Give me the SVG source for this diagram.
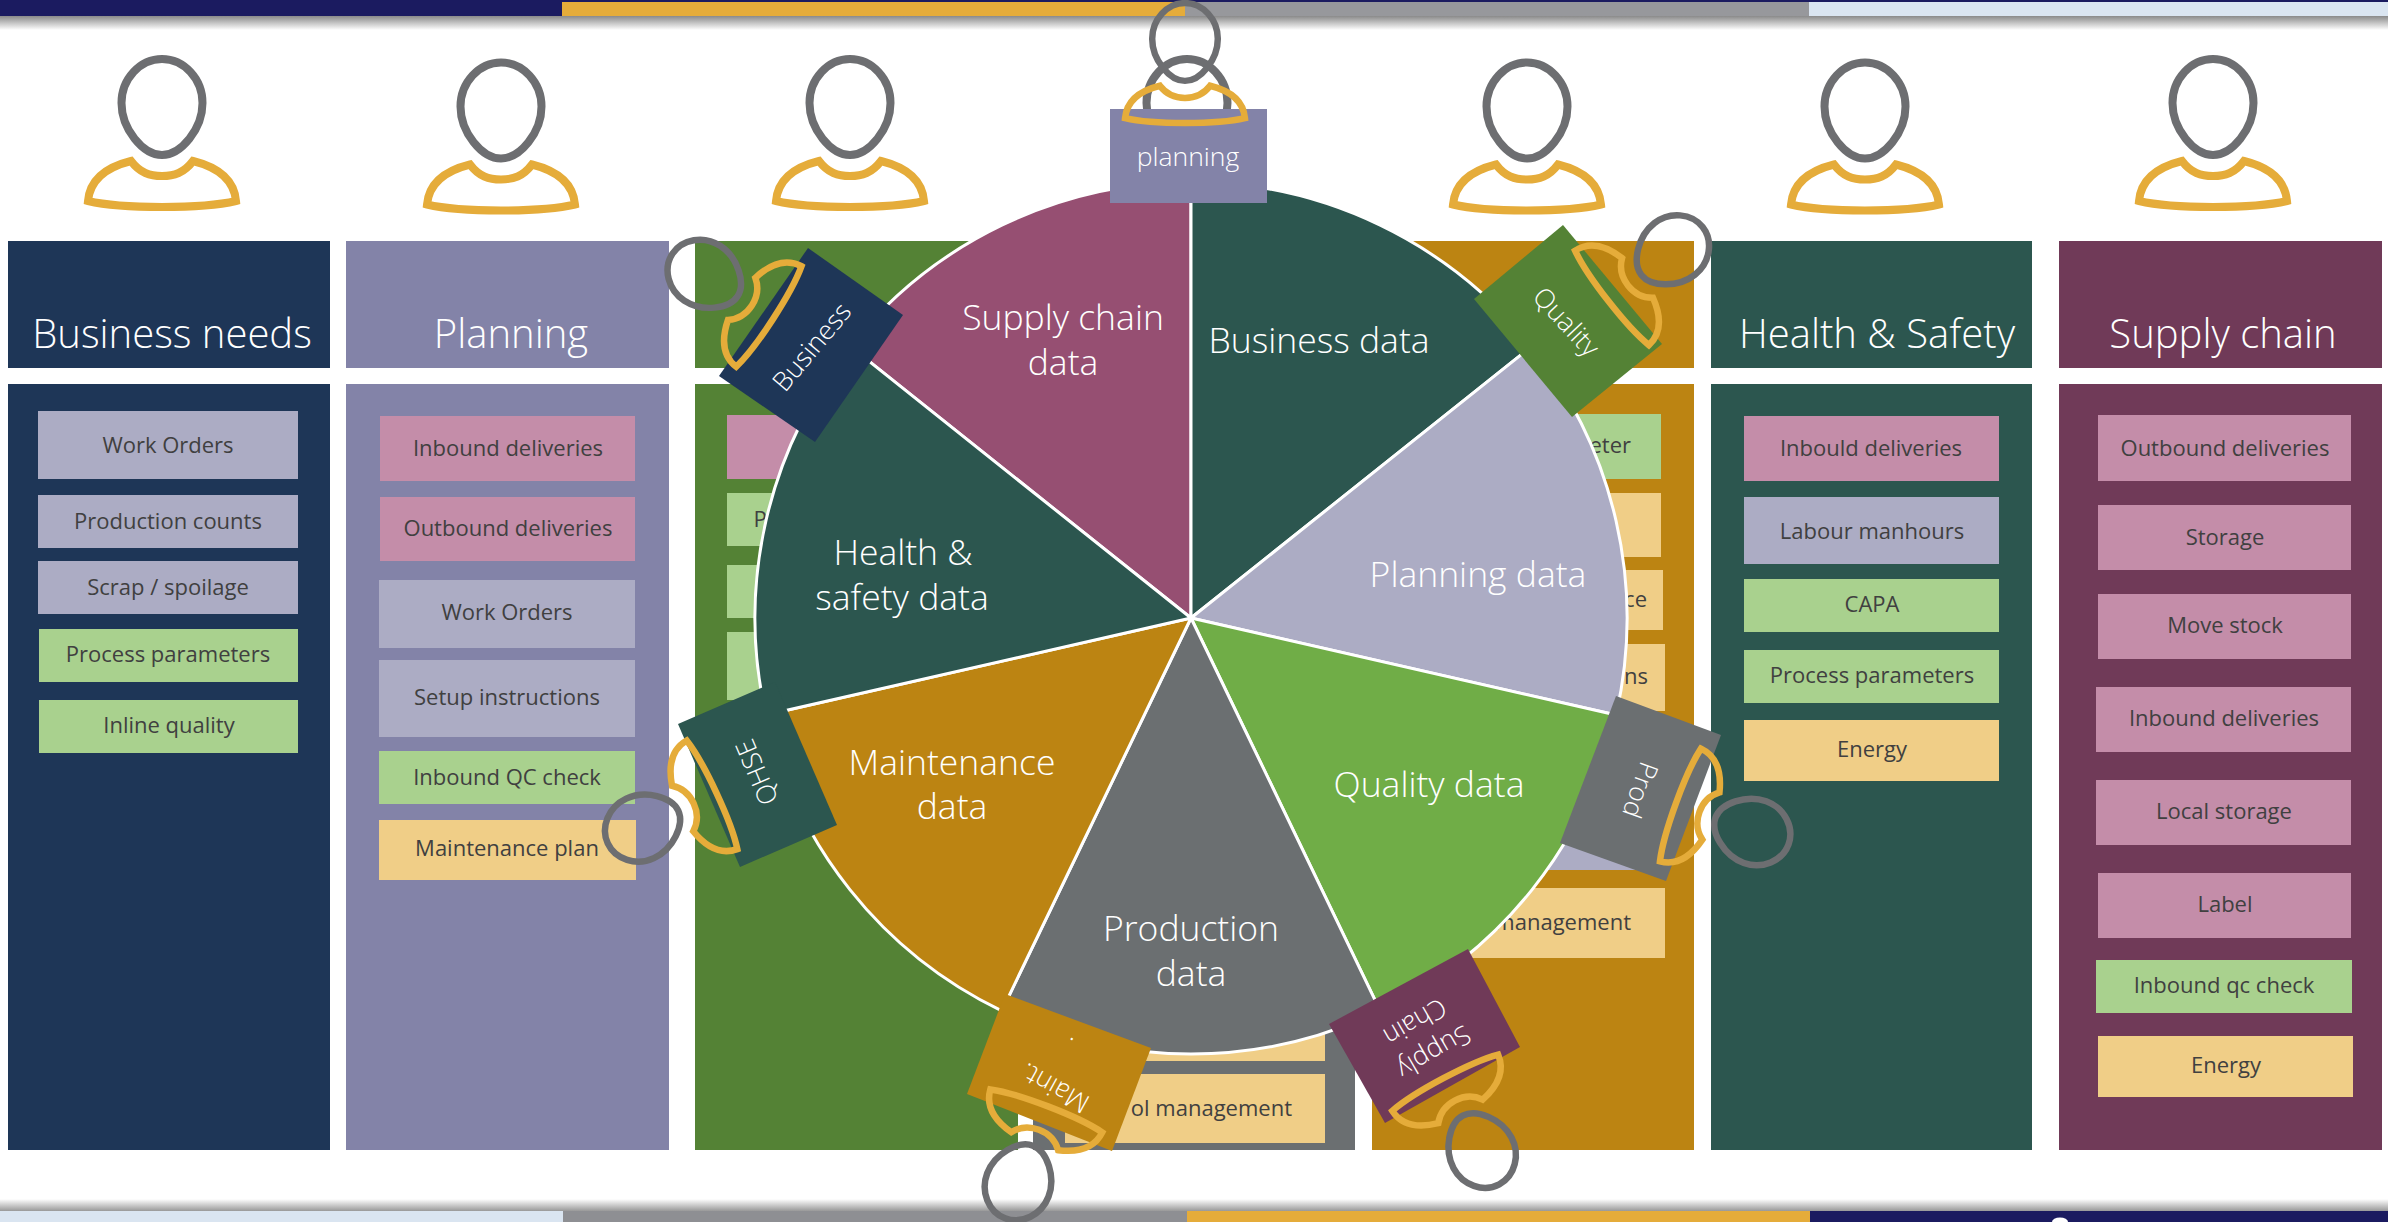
<svg xmlns="http://www.w3.org/2000/svg" xmlns:xlink="http://www.w3.org/1999/xlink" width="2388" height="1222" viewBox="0 0 2388 1222">
<style>
text{font-family:"Open Sans","Noto Sans","Liberation Sans",sans-serif}
.i{font-size:22px;fill:#404040;text-anchor:middle}
.f{font-size:22px;fill:#404040;text-anchor:end}
.t{font-size:40px;fill:#fff;text-anchor:middle;font-weight:350}
.w{font-size:35.500px;fill:#fff;text-anchor:middle;font-weight:350}
.c{font-size:26.500px;fill:#fff;text-anchor:middle;font-weight:350}
.lav{fill:#ACACC4}.pink{fill:#C48DA9}.grn{fill:#A9D18E}.yel{fill:#F0CE87}
.wedge{stroke:#fff;stroke-width:3;stroke-linejoin:round}
.head{fill:none;stroke:#6D6E71;stroke-width:8}
.body{fill:none;stroke:#E5AC3A;stroke-width:8}
</style>
<defs>
<linearGradient id="sd" x1="0" y1="0" x2="0" y2="1"><stop offset="0" stop-color="#8a8a8a"/><stop offset="1" stop-color="#fff"/></linearGradient>
<linearGradient id="su" x1="0" y1="0" x2="0" y2="1"><stop offset="0" stop-color="#fff"/><stop offset="1" stop-color="#999"/></linearGradient>
<path id="h" class="head" d="M0,-48C22,-48 40.500,-28 40.500,-4C40.500,22 19,48 0,48C-19,48 -40.500,22 -40.500,-4C-40.500,-28 -22,-48 0,-48Z"/>
<path id="b" class="body" d="M-31,54C-22,66 -12,69 0,69C12,69 22,66 31,54C55,60 72,72 74,94C40,102 -40,102 -74,94C-72,72 -55,60 -31,54Z"/>
<g id="p"><use href="#h"/><use href="#b"/></g>
</defs>
<g id="bars">
<rect x="0" y="16" width="2388" height="14" fill="url(#sd)"/>
<rect x="0" y="0" width="2388" height="16" fill="#1B1B60"/>
<rect x="562" y="2" width="623" height="14" fill="#E5AC3A"/>
<rect x="1185" y="2" width="624" height="14" fill="#97989C"/>
<rect x="1809" y="2" width="579" height="14" fill="#DAE5F1"/>
<rect x="0" y="1199" width="2388" height="12" fill="url(#su)"/>
<rect x="0" y="1211" width="563" height="11" fill="#DAE5F1"/>
<rect x="563" y="1211" width="624" height="11" fill="#8E8F93"/>
<rect x="1187" y="1211" width="623" height="11" fill="#E5AC3A"/>
<rect x="1810" y="1211" width="578" height="11" fill="#1B1B60"/>
<ellipse cx="2060" cy="1222" rx="8" ry="4.500" fill="#fff"/>
</g>
<g id="col-business">
<rect x="8" y="241" width="322" height="127" fill="#1E3657"/>
<rect x="8" y="384" width="322" height="766" fill="#1E3657"/>
<text class="t" x="172" y="348">Business needs</text>
<rect class="lav" x="38" y="411" width="260" height="68"/><text class="i" x="168" y="453">Work Orders</text>
<rect class="lav" x="38" y="495" width="260" height="53"/><text class="i" x="168" y="529">Production counts</text>
<rect class="lav" x="38" y="561" width="260" height="53"/><text class="i" x="168" y="595">Scrap / spoilage</text>
<rect class="grn" x="39" y="629" width="259" height="53"/><text class="i" x="168" y="662">Process parameters</text>
<rect class="grn" x="39" y="700" width="259" height="53"/><text class="i" x="169" y="733">Inline quality</text>
</g>
<g id="col-planning">
<rect x="346" y="241" width="323" height="127" fill="#8383A8"/>
<rect x="346" y="384" width="323" height="766" fill="#8383A8"/>
<text class="t" x="511" y="348">Planning</text>
<rect class="pink" x="380" y="416" width="255" height="65"/><text class="i" x="508" y="456">Inbound deliveries</text>
<rect class="pink" x="380" y="497" width="255" height="64"/><text class="i" x="508" y="536">Outbound deliveries</text>
<rect class="lav" x="379" y="580" width="256" height="68"/><text class="i" x="507" y="620">Work Orders</text>
<rect class="lav" x="379" y="660" width="256" height="77"/><text class="i" x="507" y="705">Setup instructions</text>
<rect class="grn" x="379" y="751" width="256" height="53"/><text class="i" x="507" y="785">Inbound QC check</text>
<rect class="yel" x="379" y="820" width="257" height="60"/><text class="i" x="507" y="856">Maintenance plan</text>
</g>
<g id="col-quality">
<rect x="695" y="241" width="323" height="127" fill="#548235"/>
<rect x="695" y="384" width="323" height="766" fill="#548235"/>
<rect class="pink" x="727" y="415" width="200" height="64"/>
<rect class="grn" x="727" y="493" width="200" height="53"/><text class="i" x="760" y="527">P</text>
<rect class="grn" x="727" y="565" width="200" height="53"/>
<rect class="grn" x="727" y="632" width="200" height="68"/>
</g>
<g id="col-production">
<rect x="1033" y="384" width="322" height="766" fill="#6B6F71"/>
<rect class="yel" x="1065" y="1000" width="260" height="61"/>
<rect class="yel" x="1065" y="1074" width="260" height="69"/><text class="f" x="1292" y="1116">ol management</text>
</g>
<g id="col-maintenance">
<rect x="1372" y="241" width="322" height="127" fill="#BC8412"/>
<rect x="1372" y="384" width="322" height="766" fill="#BC8412"/>
<rect class="grn" x="1410" y="414" width="251" height="65"/><text class="f" x="1631" y="453">eter</text>
<rect class="yel" x="1410" y="493" width="251" height="64"/>
<rect class="yel" x="1410" y="570" width="253" height="60"/><text class="f" x="1647" y="607">ce</text>
<rect class="yel" x="1410" y="644" width="255" height="67"/><text class="f" x="1648" y="684">ns</text>
<rect class="lav" x="1410" y="725" width="255" height="145"/>
<rect class="yel" x="1410" y="888" width="255" height="70"/><text class="f" x="1631" y="930">management</text>
</g>
<g id="col-health">
<rect x="1711" y="241" width="321" height="127" fill="#2C564F"/>
<rect x="1711" y="384" width="321" height="766" fill="#2C564F"/>
<text class="t" x="1877" y="348">Health &amp; Safety</text>
<rect class="pink" x="1744" y="416" width="255" height="65"/><text class="i" x="1871" y="456">Inbould deliveries</text>
<rect class="lav" x="1744" y="497" width="255" height="67"/><text class="i" x="1872" y="539">Labour manhours</text>
<rect class="grn" x="1744" y="579" width="255" height="53"/><text class="i" x="1872" y="612">CAPA</text>
<rect class="grn" x="1744" y="650" width="255" height="53"/><text class="i" x="1872" y="683">Process parameters</text>
<rect class="yel" x="1744" y="720" width="255" height="61"/><text class="i" x="1872" y="757">Energy</text>
</g>
<g id="col-supply">
<rect x="2059" y="241" width="323" height="127" fill="#703A58"/>
<rect x="2059" y="384" width="323" height="766" fill="#703A58"/>
<text class="t" x="2223" y="348">Supply chain</text>
<rect class="pink" x="2098" y="415" width="253" height="66"/><text class="i" x="2225" y="456">Outbound deliveries</text>
<rect class="pink" x="2098" y="505" width="253" height="65"/><text class="i" x="2225" y="545">Storage</text>
<rect class="pink" x="2098" y="594" width="253" height="65"/><text class="i" x="2225" y="633">Move stock</text>
<rect class="pink" x="2096" y="687" width="255" height="65"/><text class="i" x="2224" y="726">Inbound deliveries</text>
<rect class="pink" x="2096" y="780" width="255" height="65"/><text class="i" x="2224" y="819">Local storage</text>
<rect class="pink" x="2098" y="873" width="253" height="65"/><text class="i" x="2225" y="912">Label</text>
<rect class="grn" x="2096" y="960" width="256" height="53"/><text class="i" x="2224" y="993">Inbound qc check</text>
<rect class="yel" x="2098" y="1036" width="255" height="61"/><text class="i" x="2226" y="1073">Energy</text>
</g>
<g id="persons">
<use href="#p" transform="translate(162,107)"/>
<use href="#p" transform="translate(501,110.500)"/>
<use href="#p" transform="translate(850,107)"/>
<use href="#h" transform="translate(1187,107)"/>
<use href="#p" transform="translate(1527,110.500)"/>
<use href="#p" transform="translate(1865,110.500)"/>
<use href="#p" transform="translate(2213,107)"/>
</g>
<g id="pie">
<path id="w-supply" class="wedge" fill="#964F72" d="M1191,618L850.100,346.200A436,436 0 0 1 1191,182Z"/>
<path id="w-business" class="wedge" fill="#2C564F" d="M1191,618L1191,182A436,436 0 0 1 1531.900,346.200Z"/>
<path id="w-planning" class="wedge" fill="#ACACC4" d="M1191,618L1531.900,346.200A436,436 0 0 1 1616.100,715Z"/>
<path id="w-quality" class="wedge" fill="#70AD47" d="M1191,618L1616.100,715A436,436 0 0 1 1380.200,1010.800Z"/>
<path id="w-production" class="wedge" fill="#6B6F71" d="M1191,618L1380.200,1010.800A436,436 0 0 1 1001.800,1010.800Z"/>
<path id="w-maintenance" class="wedge" fill="#BC8412" d="M1191,618L1001.800,1010.800A436,436 0 0 1 765.900,715Z"/>
<path id="w-health" class="wedge" fill="#2C564F" d="M1191,618L765.900,715A436,436 0 0 1 850.100,346.200Z"/>
<text class="w" x="1063" y="330">Supply chain</text><text class="w" x="1063" y="375">data</text>
<text class="w" x="1319" y="353">Business data</text>
<text class="w" x="1478" y="587">Planning data</text>
<text class="w" x="903" y="565">Health &amp;</text><text class="w" x="902" y="610">safety data</text>
<text class="w" x="952" y="775">Maintenance</text><text class="w" x="952" y="819">data</text>
<text class="w" x="1429" y="797">Quality data</text>
<text class="w" x="1191" y="941">Production</text><text class="w" x="1191" y="986">data</text>
</g>
<g id="card-planning">
<polygon fill="#8383A8" points="1110,109 1267,109 1267,203 1110,203"/>
<text class="c" x="1188" y="166">planning</text>
<use href="#p" transform="translate(1185,42) scale(.81)"/>
</g>
<g id="card-business">
<polygon fill="#1E3657" points="808,248 903,315 815,442 719,376"/>
<text class="c" transform="translate(812,347) rotate(-50)" y="9">Business</text>
<use href="#p" transform="translate(705,275) rotate(-57) scale(.81)"/>
</g>
<g id="card-quality">
<polygon fill="#548235" points="1563,225 1662,344 1572,417 1474,299"/>
<text class="c" transform="translate(1566,322) rotate(47)" y="9">Quality</text>
<use href="#p" transform="translate(1672,251) rotate(52) scale(.81)"/>
</g>
<g id="card-prod">
<polygon fill="#6B6F71" points="1616,696 1721,735 1666,881 1560,843"/>
<text class="c" transform="translate(1640,790) rotate(110)" y="9">Prod</text>
<use href="#p" transform="translate(1752,831) rotate(110) scale(.81)"/>
</g>
<g id="card-supply">
<polygon fill="#703A58" points="1468,949 1520,1047 1385,1123 1329,1024"/>
<text class="c" transform="translate(1434,1052) rotate(150)" y="9">Supply</text>
<text class="c" transform="translate(1415,1022) rotate(150)" y="9">Chain</text>
<use href="#p" transform="translate(1481,1150) rotate(152) scale(.81)"/>
</g>
<g id="card-maint">
<polygon fill="#BC8412" points="1005,994 1151,1048 1112,1151 967,1094"/>
<text class="c" transform="translate(1055,1088) rotate(209)" y="9">Maint.</text>
<text class="c" transform="translate(1068,1046) rotate(209)" y="9">.</text>
<use href="#p" transform="translate(1019,1182) rotate(201) scale(.81)"/>
</g>
<g id="card-qhse">
<polygon fill="#2C564F" points="678,724 775,682 837,825 740,867"/>
<text class="c" transform="translate(757,772) rotate(247)" y="9">QHSE</text>
<use href="#p" transform="translate(643,827) rotate(245) scale(.81)"/>
</g>
</svg>
